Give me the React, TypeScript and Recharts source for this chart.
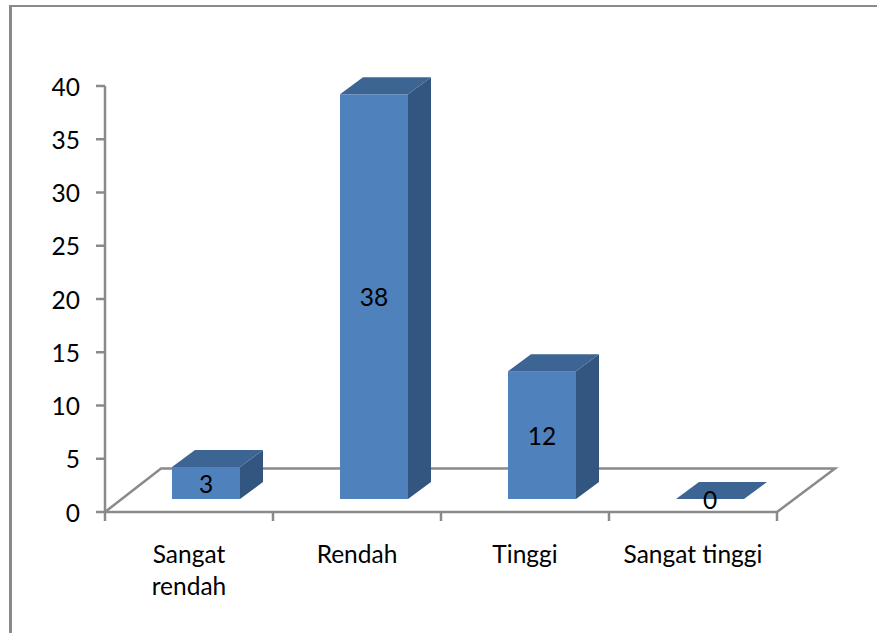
import React from 'react';
import { BarChart, Bar, XAxis, YAxis, LabelList } from 'recharts';

const categories = ['Sangat rendah', 'Rendah', 'Tinggi', 'Sangat tinggi'];
const values = [3, 38, 12, 0];
const yTicks = [0, 5, 10, 15, 20, 25, 30, 35, 40];

const chartData = categories.map((name, i) => ({ name, value: values[i] }));

const AXIS_COLOR = '#8a8a8a';
const AXIS_WIDTH = 2.5;
const FONT = 'Lato, sans-serif';
const FONT_SIZE = 24.5;

// plot area
const LEFT = 105;
const RIGHT = 777;
const TOP = 86;
const BOTTOM = 512;
const BAND = (RIGHT - LEFT) / categories.length;

// fake 3D: where the front face sits on the floor, and how deep the box goes
const FACE_DX = 17;
const FACE_DY = -13;
const DEPTH_X = 23;
const DEPTH_Y = -17;

function Box3D(props: any) {
  const x = props.x + FACE_DX;
  const y = props.y + FACE_DY;
  const w = props.width;
  const h = props.height;
  const top = `${x},${y} ${x + DEPTH_X},${y + DEPTH_Y} ${x + w + DEPTH_X},${y + DEPTH_Y} ${x + w},${y}`;
  const side = `${x + w},${y} ${x + w + DEPTH_X},${y + DEPTH_Y} ${x + w + DEPTH_X},${y + h + DEPTH_Y} ${x + w},${y + h}`;
  return (
    <g>
      <polygon points={side} fill="#335680" />
      <rect x={x} y={y} width={w} height={h} fill="#4F81BD" />
      <polygon points={top} fill="#3D6594" />
    </g>
  );
}

function BoxLabel(props: any) {
  const { x, y, width, height, value } = props;
  return (
    <text
      x={x + width / 2 + FACE_DX}
      y={y + height / 2 + FACE_DY + 1}
      dy="0.36em"
      textAnchor="middle"
      fill="#000"
      fontFamily={FONT}
      fontSize={FONT_SIZE}
    >
      {value}
    </text>
  );
}

// category labels wrap the way the original does: only the long one breaks.
// tick marks sit on the band edges, not the centres, so they are drawn here too
function CategoryTick(props: any) {
  const { x, payload, index } = props;
  const lines = payload.value === 'Sangat rendah' ? ['Sangat', 'rendah'] : [payload.value];
  const tickStyle = { stroke: AXIS_COLOR, strokeWidth: AXIS_WIDTH };
  return (
    <g>
      <line x1={x - BAND / 2} x2={x - BAND / 2} y1={BOTTOM} y2={BOTTOM + 9} {...tickStyle} />
      {index === categories.length - 1 && (
        <line x1={x + BAND / 2} x2={x + BAND / 2} y1={BOTTOM} y2={BOTTOM + 9} {...tickStyle} />
      )}
      <text x={x} y={BOTTOM + 51} textAnchor="middle" fill="#000" fontFamily={FONT} fontSize={FONT_SIZE}>
        {lines.map((line: string, i: number) => (
          <tspan key={line} x={x} dy={i === 0 ? 0 : 32}>
            {line}
          </tspan>
        ))}
      </text>
    </g>
  );
}

function Floor() {
  const backY = 468.5;
  const points = `${LEFT},${BOTTOM} ${LEFT + 56},${backY} ${RIGHT + 58},${backY} ${RIGHT},${BOTTOM}`;
  return <polyline points={points} fill="none" stroke={AXIS_COLOR} strokeWidth={AXIS_WIDTH} />;
}

export default function App() {
  return (
    <div style={{ position: 'absolute', left: 0, top: 0, width: 877, height: 633, background: '#fff' }}>
      {/* frame of the pasted chart, only left and top are visible */}
      <div
        style={{
          position: 'absolute',
          left: 9,
          top: 5,
          right: 0,
          bottom: 0,
          borderLeft: `3px solid ${AXIS_COLOR}`,
          borderTop: `2px solid ${AXIS_COLOR}`,
        }}
      />
      <div style={{ position: 'absolute', left: 0, top: 0 }}>
        <BarChart
          width={877}
          height={633}
          data={chartData}
          margin={{ left: LEFT - 60, right: 877 - RIGHT, top: TOP, bottom: 0 }}
          barCategoryGap={50}
        >
          <Floor />
          <XAxis
            dataKey="name"
            height={633 - BOTTOM}
            interval={0}
            tickLine={false}
            axisLine={{ stroke: AXIS_COLOR, strokeWidth: AXIS_WIDTH }}
            tick={<CategoryTick />}
          />
          <YAxis
            width={60}
            domain={[0, 40]}
            ticks={yTicks}
            interval={0}
            tickSize={9}
            tickMargin={16}
            axisLine={{ stroke: AXIS_COLOR, strokeWidth: AXIS_WIDTH }}
            tickLine={{ stroke: AXIS_COLOR, strokeWidth: AXIS_WIDTH }}
            tick={{ fill: '#000', fontFamily: FONT, fontSize: FONT_SIZE, dy: 1 }}
          />
          <Bar dataKey="value" isAnimationActive={false} shape={<Box3D />}>
            <LabelList dataKey="value" content={<BoxLabel />} />
          </Bar>
        </BarChart>
      </div>
    </div>
  );
}
